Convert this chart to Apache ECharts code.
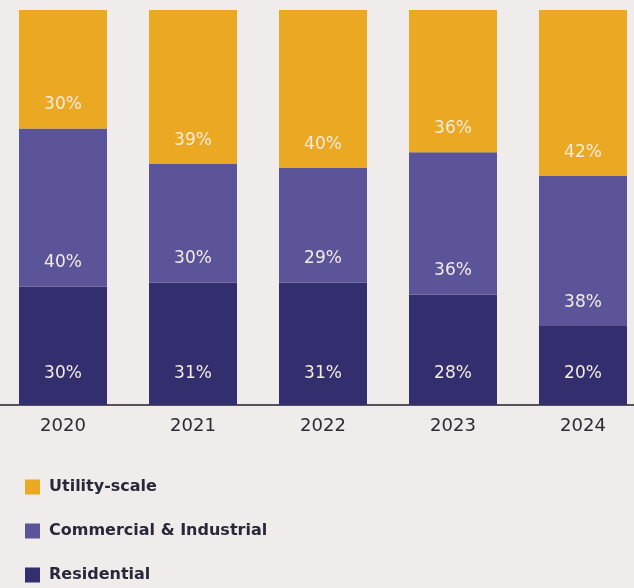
<!DOCTYPE html>
<html>
<head>
<meta charset="utf-8">
<script src="https://cdn.jsdelivr.net/npm/echarts@6/dist/echarts.min.js"></script>
<style>
  html, body { margin: 0; padding: 0; background: #efeceb; overflow: hidden; }
  #chart { position: relative; left: -2px; width: 650px; height: 588px; }
</style>
</head>
<body>
<div id="chart"></div>
<script>
// Installed capacity share by segment, per year
const years = ['2020', '2021', '2022', '2023', '2024'];
const residential = [30, 31, 31, 28, 20];
const commercialIndustrial = [40, 30, 29, 36, 38];
const utilityScale = [30, 39, 40, 36, 42];

const FONT = '"DejaVu Sans", Inter, sans-serif';

function segmentLabel(distance) {
  return {
    show: true,
    position: 'insideBottom',
    distance: distance,
    color: '#f3ece4',
    fontFamily: FONT,
    fontSize: 17,
    fontWeight: 'normal',
    formatter: p => p.value + '%'
  };
}

const chart = echarts.init(document.getElementById('chart'), null, { renderer: 'canvas' });
chart.setOption({
  backgroundColor: '#efeceb',
  animation: false,
  grid: { left: 0, right: 0, top: 10, bottom: 183, containLabel: false },
  legend: {
    orient: 'vertical',
    left: 22,
    top: 474,
    itemGap: 28,
    itemWidth: 15,
    itemHeight: 15,
    icon: 'rect',
    selectedMode: false,
    data: ['Utility-scale', 'Commercial & Industrial', 'Residential'],
    textStyle: { fontFamily: FONT, fontSize: 16, fontWeight: 'bold', color: '#2a2838', padding: [0, 0, 0, 4] }
  },
  xAxis: {
    type: 'category',
    data: years,
    axisLine: { lineStyle: { color: '#55525a', width: 2 } },
    axisTick: { show: false },
    axisLabel: { color: '#2c2a33', fontFamily: FONT, fontSize: 18, margin: 12 }
  },
  yAxis: {
    type: 'value',
    min: 0,
    max: 100,
    show: false,
    splitLine: { show: false }
  },
  series: [
    {
      name: 'Residential', type: 'bar', stack: 'share', barWidth: 88,
      itemStyle: { color: '#332e6e' },
      label: segmentLabel(23),
      data: residential
    },
    {
      name: 'Commercial & Industrial', type: 'bar', stack: 'share', barWidth: 88,
      itemStyle: { color: '#5b5499' },
      label: segmentLabel(15),
      data: commercialIndustrial
    },
    {
      name: 'Utility-scale', type: 'bar', stack: 'share', barWidth: 88,
      itemStyle: { color: '#eba822' },
      label: segmentLabel(15),
      data: utilityScale
    }
  ]
});
</script>
</body>
</html>
